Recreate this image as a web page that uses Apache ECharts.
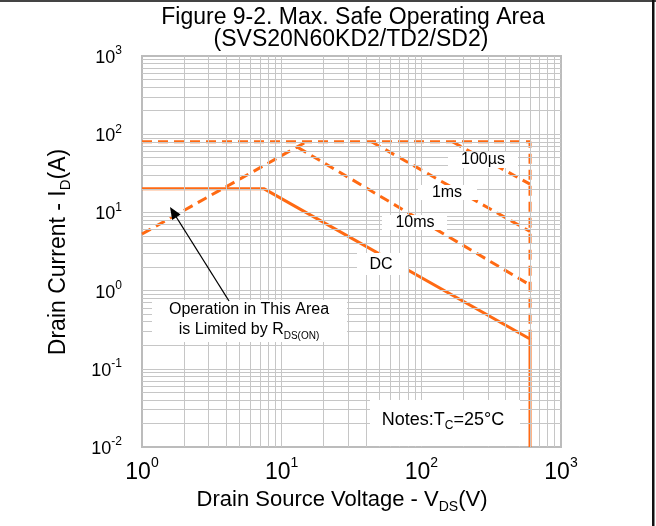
<!DOCTYPE html>
<html>
<head>
<meta charset="utf-8">
<script src="https://cdn.jsdelivr.net/npm/echarts@6/dist/echarts.min.js"></script>
<style>
  html, body { margin: 0; padding: 0; background: #fff; }
  #c { width: 656px; height: 526px; }
</style>
</head>
<body>
<div id="c"></div>
<script>
const FONT = '"Liberation Sans", Arial, sans-serif';

// Safe operating area boundaries: drain-source voltage (V) and drain current (A)
const dcV = [1, 7.5, 600, 600];
const dcI = [20, 20, 0.24, 0.01];
const rdsV = [1, 15];
const rdsI = [5.3, 80];
const idmV = [1, 600, 600];
const idmI = [80, 80, 0.24];
const ms10V = [13, 600];
const ms10I = [68, 1.18];
const ms1V = [44, 600];
const ms1I = [80, 5.7];
const us100V = [167, 600];
const us100I = [80, 23];

// Decade ticks on both log axes
const xTicks = [1, 10, 100, 1000];
const yTicks = [0.01, 0.1, 1, 10, 100, 1000];

const ORANGE = '#ff6a13';
const GRID = '#c6c6c6';

const pairs = (xs, ys) => xs.map((x, i) => [x, ys[i]]);

// 1..9 lines inside every decade
function decadeLines(ticks) {
  const out = [];
  for (let i = 0; i < ticks.length - 1; i++) {
    for (let k = 1; k <= 9; k++) {
      if (i === 0 && k === 1) continue;
      out.push(+(ticks[i] * k).toPrecision(6));
    }
  }
  return out;
}
const gridX = decadeLines(xTicks);
const gridY = decadeLines(yTicks);

const dashed = { color: ORANGE, width: 3, type: [10, 6] };
const solid = { color: ORANGE, width: 3 };

function curve(name, xs, ys, style) {
  return {
    name, type: 'line', data: pairs(xs, ys), symbol: 'none',
    lineStyle: style, z: 4, silent: true, animation: false
  };
}

const expOf = v => Math.round(Math.log10(v));

const subRich = (size) => ({
  a: { fontSize: size, fontFamily: FONT, color: '#000', lineHeight: size + 6, verticalAlign: 'middle' },
  s: { fontSize: Math.round(size * 0.65), fontFamily: FONT, color: '#000', lineHeight: Math.round(size * 0.65), verticalAlign: 'bottom' }
});

const chart = echarts.init(document.getElementById('c'), null, { renderer: 'canvas' });

chart.setOption({
  animation: false,
  backgroundColor: '#fff',
  grid: {
    left: 142, top: 56, right: 95, bottom: 79,
    show: true, borderColor: '#bcbcbc', borderWidth: 2, backgroundColor: 'transparent'
  },
  xAxis: {
    type: 'log', logBase: 10, min: 1, max: 1000, splitNumber: 3,
    axisLine: { show: false }, axisTick: { show: false },
    splitLine: { show: false },
    axisLabel: {
      margin: 9,
      formatter: v => '{b|10}{s|' + expOf(v) + '}',
      rich: {
        b: { fontSize: 23, fontFamily: FONT, color: '#000', lineHeight: 28, verticalAlign: 'bottom' },
        s: { fontSize: 14, fontFamily: FONT, color: '#000', lineHeight: 14, verticalAlign: 'top' }
      }
    }
  },
  yAxis: {
    type: 'log', logBase: 10, min: 0.01, max: 1000, splitNumber: 5,
    axisLine: { show: false }, axisTick: { show: false },
    splitLine: { show: false },
    axisLabel: {
      margin: 20,
      formatter: v => '{b|10}{s|' + expOf(v) + '}',
      rich: {
        b: { fontSize: 18, fontFamily: FONT, color: '#000', lineHeight: 22, verticalAlign: 'bottom', padding: [0, 0, 0, 0] },
        s: { fontSize: 12, fontFamily: FONT, color: '#000', lineHeight: 12, verticalAlign: 'top' }
      }
    }
  },
  series: [
    {
      name: 'grid', type: 'line', data: [], z: 1, silent: true,
      markLine: {
        silent: true, symbol: 'none', animation: false,
        label: { show: false },
        lineStyle: { color: GRID, width: 1, type: 'solid' },
        data: gridX.map(v => ({ xAxis: v })).concat(gridY.map(v => ({ yAxis: v })))
      }
    },
    curve('Idm', idmV, idmI, dashed),
    curve('RDS(on)', rdsV, rdsI, dashed),
    curve('10ms', ms10V, ms10I, dashed),
    curve('1ms', ms1V, ms1I, dashed),
    curve('100us', us100V, us100I, dashed),
    curve('DC', dcV, dcI, solid)
  ],
  graphic: [
    // frame edges
    { type: 'rect', shape: { x: 0, y: 0, width: 656, height: 2 }, style: { fill: '#444' }, z: 10 },
    { type: 'rect', shape: { x: 652, y: 0, width: 2.5, height: 526 }, style: { fill: '#111' }, z: 10 },
    // title
    { type: 'text', x: 353, y: 18, z: 10,
      style: { text: 'Figure 9-2. Max. Safe Operating Area', font: '23px ' + FONT, fill: '#000', align: 'center', verticalAlign: 'middle' } },
    { type: 'text', x: 351, y: 40, z: 10,
      style: { text: '(SVS20N60KD2/TD2/SD2)', font: '23px ' + FONT, fill: '#000', align: 'center', verticalAlign: 'middle' } },
    // axis names
    { type: 'text', x: 59, y: 252, rotation: Math.PI / 2, z: 10,
      style: { text: '{a|Drain Current - I}{s|D}{a|(A)}', rich: subRich(23), align: 'center', verticalAlign: 'middle' } },
    { type: 'text', x: 342, y: 500, z: 10,
      style: { text: '{a|Drain Source Voltage - V}{s|DS}{a|(V)}', rich: subRich(22), align: 'center', verticalAlign: 'middle' } },
    // curve labels
    { type: 'rect', shape: { x: 448, y: 152, width: 70, height: 16 }, style: { fill: '#fff' }, z: 8 },
    { type: 'text', x: 483, y: 160, z: 9,
      style: { text: '100µs', font: '16px ' + FONT, fill: '#000', align: 'center', verticalAlign: 'middle' } },
    { type: 'rect', shape: { x: 418, y: 185, width: 59, height: 15 }, style: { fill: '#fff' }, z: 8 },
    { type: 'text', x: 447, y: 193, z: 9,
      style: { text: '1ms', font: '16px ' + FONT, fill: '#000', align: 'center', verticalAlign: 'middle' } },
    { type: 'rect', shape: { x: 382, y: 215, width: 65, height: 15 }, style: { fill: '#fff' }, z: 8 },
    { type: 'text', x: 415, y: 223, z: 9,
      style: { text: '10ms', font: '16px ' + FONT, fill: '#000', align: 'center', verticalAlign: 'middle' } },
    { type: 'rect', shape: { x: 357, y: 253, width: 51, height: 22 }, style: { fill: '#fff' }, z: 8 },
    { type: 'text', x: 381, y: 265, z: 9,
      style: { text: 'DC', font: '16px ' + FONT, fill: '#000', align: 'center', verticalAlign: 'middle' } },
    // R_DS(on) note and arrow
    { type: 'rect', shape: { x: 152, y: 300, width: 195, height: 42 }, style: { fill: '#fff' }, z: 8 },
    { type: 'text', x: 249, y: 310, z: 9,
      style: { text: 'Operation in This Area', font: '16px ' + FONT, fill: '#000', align: 'center', verticalAlign: 'middle' } },
    { type: 'text', x: 249, y: 330, z: 9,
      style: { text: '{a|is Limited by R}{s|DS(ON)}', rich: subRich(16), align: 'center', verticalAlign: 'middle' } },
    { type: 'line', shape: { x1: 229, y1: 301, x2: 175, y2: 215 }, style: { stroke: '#000', lineWidth: 1.3 }, z: 9 },
    { type: 'polygon', shape: { points: [[170, 207], [180.6, 214.5], [172.2, 219.9]] }, style: { fill: '#000' }, z: 9 },
    // conditions
    { type: 'rect', shape: { x: 370, y: 400, width: 150, height: 46 }, style: { fill: '#fff' }, z: 8 },
    { type: 'text', x: 443, y: 420, z: 9,
      style: { text: '{a|Notes:T}{s|C}{a|=25°C}', rich: subRich(18), align: 'center', verticalAlign: 'middle' } }
  ]
});
</script>
</body>
</html>
